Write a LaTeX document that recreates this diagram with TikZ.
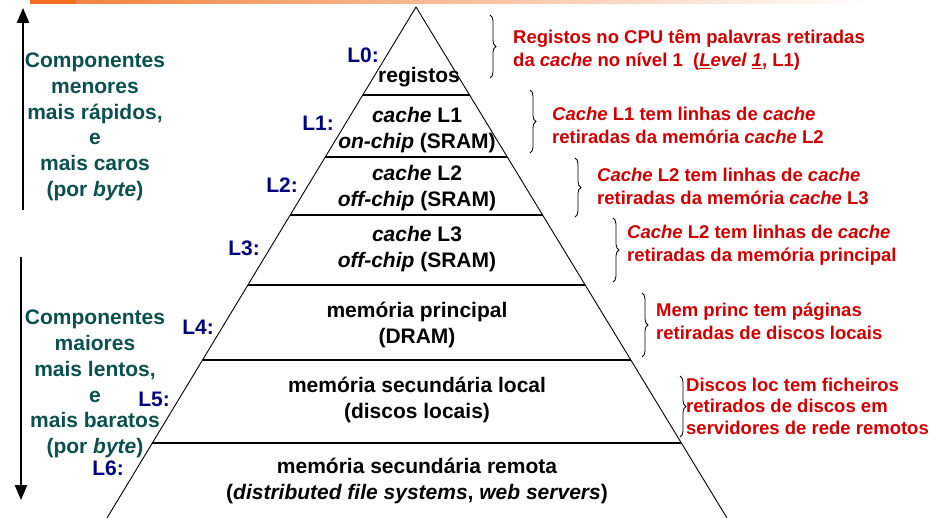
\documentclass[tikz,border=0pt]{standalone}
\usepackage{fontspec}
\setmainfont{Liberation Sans}
\usetikzlibrary{arrows,calc,decorations.pathreplacing}
\definecolor{lvlblue}{RGB}{0,0,128}
\definecolor{notered}{RGB}{210,0,0}
\definecolor{sideteal}{RGB}{10,80,80}
\definecolor{barorange}{RGB}{240,110,30}
\tikzset{
  layer/.style={font=\fontsize{21}{26}\selectfont\bfseries,align=center,inner sep=0pt},
  lvl/.style={font=\fontsize{21}{26}\selectfont\bfseries,text=lvlblue,inner sep=0pt},
  side/.style={font=\fontsize{21}{25.7}\selectfont\bfseries,text=sideteal,align=center,inner sep=0pt},
  note/.style={font=\fontsize{18.5}{23}\selectfont\bfseries,text=notered,align=left,anchor=west,inner sep=0pt},
  nbrace/.style={decorate,decoration={brace,amplitude=6pt},line width=0.8pt}
}

\begin{document}
\begin{tikzpicture}[x=1pt,y=-1pt]
\useasboundingbox (0,0) rectangle (951,518);
% bar on top
\fill[barorange] (30,0) rectangle (76,4);
\shade[left color=barorange!85!white,middle color=red!20!white,right color=white] (76,0) rectangle (870,4);

% pyramid
\coordinate (apex) at (416,7);
\coordinate (bl) at (107,518);
\coordinate (br) at (727,518);
\draw[line width=0.9pt] (bl) -- (apex) -- (br);
\foreach \y [evaluate=\y as \t using (\y-7)/511] in {95,157,215,285,360,443}
   \draw[line width=1.2pt] ($(apex)!\t!(bl)$) -- ($(apex)!\t!(br)$);

\node[layer] (reg) at (419,77) {registos};
\node[layer] (c1) at (417,130) {\textit{cache} L1\\\textit{on-chip} (SRAM)};
\node[layer] (c2) at (417,188) {\textit{cache} L2\\\textit{off-chip} (SRAM)};
\node[layer] (c3) at (417,249) {\textit{cache} L3\\\textit{off-chip} (SRAM)};
\node[layer] (mp) at (417,325) {memória principal\\(DRAM)};
\node[layer] (msl) at (417,400) {memória secundária local\\(discos locais)};
\node[layer] (msr) at (417,481) {memória secundária remota\\(\textit{distributed file systems}, \textit{web servers})};

\node[lvl] (lab0) at (363,55) {L0:};
\node[lvl] (lab1) at (318,123) {L1:};
\node[lvl] (lab2) at (282,185) {L2:};
\node[lvl] (lab3) at (244,248) {L3:};
\node[lvl] (lab4) at (198,327) {L4:};
\node[lvl] (lab5) at (154,399) {L5:};
\node[lvl] (lab6) at (108,468) {L6:};

% left side
\node[side] (fast) at (95,127) {Componentes\\menores\\mais rápidos,\\e\\mais caros\\(por \textit{byte})};
\node[side] (slow) at (95,384) {Componentes\\maiores\\mais lentos,\\e\\mais baratos\\(por \textit{byte})};
\coordinate (up0) at (23,210);
\coordinate (up1) at (23,8);
\coordinate (dn0) at (21,257);
\coordinate (dn1) at (21,500);
\draw[line width=2.5pt,arrows=-triangle 45] (up0) -- (up1);
\draw[line width=2.5pt,arrows=-triangle 45] (dn0) -- (dn1);

% braces and notes
\foreach \x/\ya/\yb [count=\i] in {490/15/78,530/90/153,575/158/217,613/218/282,642/293/357,680/376/437}
 {
   \coordinate (bt\i) at (\x,\ya);
   \coordinate (bb\i) at (\x,\yb);
   \draw[nbrace] (bt\i) -- (bb\i);
 }
\node[note] (n1) at (513,50) {Registos no CPU têm palavras retiradas\\da \textit{cache} no nível 1~~(\textit{\underline{L}evel \underline{1}}, L1)};
\node[note] (n2) at (552,125) {\textit{Cache} L1 tem linhas de \textit{cache}\\retiradas da memória \textit{cache} L2};
\node[note] (n3) at (597,186) {\textit{Cache} L2 tem linhas de \textit{cache}\\retiradas da memória \textit{cache} L3};
\node[note] (n4) at (627,245) {\textit{Cache} L2 tem linhas de \textit{cache}\\retiradas da memória principal};
\node[note] (n5) at (656,321) {Mem princ tem páginas\\retiradas de discos locais};
\node[note,font=\fontsize{18.5}{21.5}\selectfont\bfseries] (n6) at (686,406) {Discos loc tem ficheiros\\retirados de discos em\\servidores de rede remotos};
\end{tikzpicture}
\end{document}
